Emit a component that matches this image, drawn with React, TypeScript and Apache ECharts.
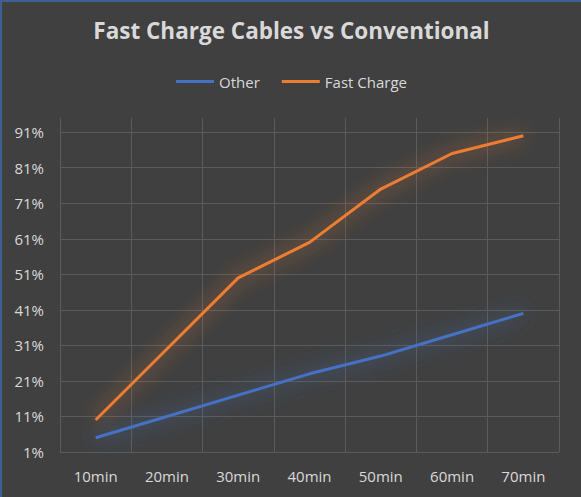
import React, { useEffect, useRef } from 'react';
import * as echarts from 'echarts';

const categories = ['10min', '20min', '30min', '40min', '50min', '60min', '70min'];
const otherValues = [5, 11, 17, 23, 28, 34, 40];
const fastChargeValues = [10, 30, 50, 60, 75, 85, 90];
// Excel-style axis: starts at 1%, major unit 10
const yMin = 1;
const yMax = 95;
const yStep = 10;

const TEXT = '#d9d9d9';
const GRID = '#5b5b5b';
const FONT = '"Open Sans", "Noto Sans", sans-serif';

const App: React.FC = () => {
  const chartRef = useRef<HTMLDivElement | null>(null);

  useEffect(() => {
    document.body.style.margin = '0';
    const chart = echarts.init(chartRef.current!, null, { renderer: 'svg' });

    // one split line per tick (1..91 and the 95 max); hide the max one
    const tickCount = Math.floor((yMax - yMin) / yStep) + 2;
    const lineColors = Array.from({ length: tickCount }, (_, i) =>
      i === tickCount - 1 ? 'rgba(0,0,0,0)' : GRID
    );

    const option: echarts.EChartsOption = {
      animation: false,
      backgroundColor: '#404040',
      textStyle: { fontFamily: FONT },
      title: {
        text: 'Fast Charge Cables vs Conventional',
        left: 'center',
        top: 12,
        textStyle: {
          color: TEXT,
          fontSize: 22.5,
          fontWeight: 'bold',
          fontFamily: FONT,
        },
      },
      legend: {
        top: 67,
        left: 'center',
        itemWidth: 38,
        itemHeight: 3,
        itemGap: 22,
        icon: 'rect',
        textStyle: { color: TEXT, fontSize: 15, fontFamily: FONT },
        data: ['Other', 'Fast Charge'],
      },
      grid: {
        left: 58,
        right: 22,
        top: 116,
        bottom: 45,
        containLabel: false,
      },
      xAxis: {
        type: 'category',
        data: categories,
        boundaryGap: true,
        axisLine: { show: false },
        axisTick: { show: false },
        axisLabel: { color: TEXT, fontSize: 15, margin: 16, fontFamily: FONT },
        splitLine: { show: true, lineStyle: { color: GRID, width: 1 } },
      },
      yAxis: {
        type: 'value',
        min: yMin,
        max: yMax,
        interval: yStep,
        axisLine: { show: false },
        axisTick: { show: false },
        axisLabel: {
          color: TEXT,
          fontSize: 15,
          margin: 16,
          fontFamily: FONT,
          formatter: (v: number) => (v === yMax ? '' : `${v}%`),
        },
        splitLine: { show: true, lineStyle: { color: lineColors, width: 1 } },
      },
      series: [
        {
          name: 'Other',
          type: 'line',
          data: otherValues,
          symbol: 'none',
          color: '#4472c4',
          lineStyle: {
            width: 3,
            color: '#4472c4',
            shadowColor: 'rgba(68,114,196,1)',
            shadowBlur: 20,
          },
        },
        {
          name: 'Fast Charge',
          type: 'line',
          data: fastChargeValues,
          symbol: 'none',
          color: '#ed7d31',
          lineStyle: {
            width: 3,
            color: '#ed7d31',
            shadowColor: 'rgba(237,125,49,1)',
            shadowBlur: 20,
          },
        },
      ],
    };

    chart.setOption(option);

    return () => {
      chart.dispose();
    };
  }, []);

  return (
    <div
      ref={chartRef}
      style={{
        width: 581,
        height: 497,
        boxSizing: 'border-box',
        borderLeft: '2px solid #3f5f94',
        borderTop: '2px solid #3f5f94',
        background: '#404040',
      }}
    />
  );
};

export default App;
